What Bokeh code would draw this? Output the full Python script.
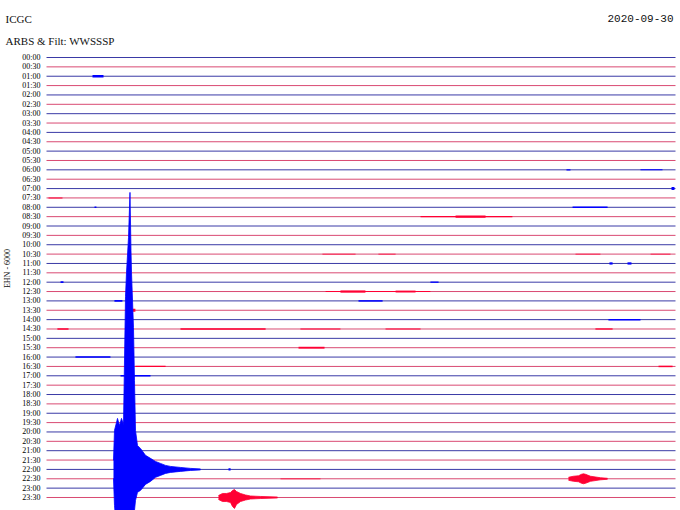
from bokeh.plotting import figure
from bokeh.models import Range1d
from bokeh.embed import file_html
from bokeh.resources import INLINE
from bokeh.core.properties import value

# ---------------- data ----------------
station = "ICGC"
subtitle = "ARBS & Filt: WWSSSP"
date_label = "2020-09-30"
channel_label = "EHN - 6000"

trace_labels = [
    "00:00", "00:30", "01:00", "01:30", "02:00", "02:30", "03:00", "03:30",
    "04:00", "04:30", "05:00", "05:30", "06:00", "06:30", "07:00", "07:30",
    "08:00", "08:30", "09:00", "09:30", "10:00", "10:30", "11:00", "11:30",
    "12:00", "12:30", "13:00", "13:30", "14:00", "14:30", "15:00", "15:30",
    "16:00", "16:30", "17:00", "17:30", "18:00", "18:30", "19:00", "19:30",
    "20:00", "20:30", "21:00", "21:30", "22:00", "22:30", "23:00", "23:30",
]
trace_minutes = 30  # each line spans 30 minutes

# main earthquake on the 22:00 line (minutes into line, envelope in line-spacing units)
quake_trace = 44
quake_t = [3.195, 3.243, 3.339, 3.386, 3.482, 3.577, 3.672, 3.768, 3.816, 3.911,
           3.982, 4.030, 4.054, 4.149, 4.197, 4.245, 4.340, 4.483, 4.722, 4.960,
           5.199, 5.437, 5.676, 5.914, 6.391, 6.868, 7.345]
quake_up = [0.96, 4.17, 5.02, 5.45, 4.70, 5.45, 4.81, 18.48, 21.04, 24.78,
            29.59, 23.39, 21.04, 15.17, 9.51, 4.17, 2.56, 2.24, 1.50, 1.18,
            0.85, 0.64, 0.43, 0.32, 0.21, 0.11, 0.05]
quake_dn = [-0.96, -3.85, -6.52, -6.52, -6.52, -6.52, -6.52, -6.52, -6.52, -7.58,
            -7.58, -7.58, -6.52, -5.45, -4.38, -3.31, -2.45, -2.24, -1.60, -1.28,
            -0.85, -0.64, -0.43, -0.32, -0.21, -0.11, -0.05]

# event on the 23:30 line
ev1_trace = 47
ev1_t = [8.203, 8.394, 8.585, 8.776, 8.871, 8.966, 9.062, 9.253, 9.491, 9.730, 10.207, 11.017]
ev1_up = [0.21, 0.43, 0.43, 0.53, 0.75, 0.85, 0.64, 0.43, 0.27, 0.16, 0.11, 0.05]
ev1_dn = [-0.21, -0.43, -0.43, -0.53, -0.96, -1.17, -0.75, -0.43, -0.27, -0.16, -0.11, -0.05]

# event on the 22:30 line
ev2_trace = 45
ev2_t = [24.897, 25.135, 25.374, 25.517, 25.612, 25.708, 25.946, 26.423, 26.757]
ev2_up = [0.16, 0.27, 0.32, 0.48, 0.53, 0.48, 0.27, 0.11, 0.05]
ev2_dn = [-0.16, -0.27, -0.32, -0.48, -0.53, -0.48, -0.27, -0.11, -0.05]

# small noise bursts: line index, start minute, end minute, half amplitude
burst_trace = [2, 12, 12, 14, 15, 16, 16, 17, 17, 21, 21, 21, 21, 22, 22, 24, 24,
               25, 25, 25, 26, 26, 27, 28, 29, 29, 29, 29, 29, 31, 32, 33, 33, 34, 45, 44]
burst_t0 = [2.194, 24.80, 28.33, 29.81, 0.095, 2.29, 25.09, 17.84, 19.51, 13.16, 15.83, 25.23,
            28.81, 26.85, 27.71, 0.67, 18.31, 13.31, 14.02, 16.65, 3.24, 14.88, 4.10, 26.80,
            0.52, 6.39, 12.11, 16.17, 26.18, 12.02, 1.38, 4.24, 29.19, 3.53, 11.16, 8.68]
burst_t1 = [2.719, 24.99, 29.38, 29.95, 0.763, 2.38, 26.76, 22.22, 20.94, 14.74, 16.65, 26.42,
            29.76, 27.00, 27.90, 0.81, 18.70, 18.31, 15.21, 17.60, 3.62, 16.03, 4.24, 28.33,
            1.05, 10.45, 14.02, 17.84, 27.00, 13.26, 3.05, 5.68, 29.86, 4.96, 13.07, 8.78]
burst_amp = [0.13, 0.06, 0.05, 0.16, 0.05, 0.08, 0.08, 0.06, 0.12, 0.05, 0.05, 0.05,
             0.05, 0.12, 0.12, 0.10, 0.07, 0.06, 0.12, 0.10, 0.09, 0.08, 0.16, 0.08,
             0.08, 0.07, 0.05, 0.05, 0.07, 0.10, 0.08, 0.07, 0.08, 0.08, 0.04, 0.12]

# ---------------- style ----------------
LINE_BLUE = "#3a3aa6"
LINE_RED = "#d94a72"
SIG_BLUE = "#0000ff"
SIG_RED = "#ff0033"
SERIF = value("Liberation Serif")

def is_red(i):
    return i % 2 == 1

p = figure(width=680, height=510, output_backend="svg", toolbar_location=None,
           x_range=Range1d(-2.194, 30.238), y_range=Range1d(-48.389, 6.089),
           min_border=0, background_fill_color="white", border_fill_color="white")
p.axis.visible = False
p.grid.visible = False
p.outline_line_color = None

n = len(trace_labels)
base_y = [-i for i in range(n)]
p.segment(x0=[0] * n, y0=base_y, x1=[trace_minutes] * n, y1=base_y,
          line_color=[LINE_RED if is_red(i) else LINE_BLUE for i in range(n)],
          line_width=1)

# noise bursts
p.quad(left=burst_t0, right=burst_t1,
       bottom=[-t - a for t, a in zip(burst_trace, burst_amp)],
       top=[-t + a for t, a in zip(burst_trace, burst_amp)],
       fill_color=[SIG_RED if is_red(t) else SIG_BLUE for t in burst_trace],
       line_color=None)

for tr, tt, up, dn in [(quake_trace, quake_t, quake_up, quake_dn),
                       (ev1_trace, ev1_t, ev1_up, ev1_dn),
                       (ev2_trace, ev2_t, ev2_up, ev2_dn)]:
    col = SIG_RED if is_red(tr) else SIG_BLUE
    p.varea(x=tt, y1=[-tr + u for u in up], y2=[-tr + d for d in dn],
            fill_color=col)
    p.line(x=tt, y=[-tr + u for u in up], line_color=col, line_width=0.8)
    p.line(x=tt, y=[-tr + d for d in dn], line_color=col, line_width=0.8)

# time labels
p.text(x=[-0.286] * n, y=base_y, text=trace_labels, text_font=SERIF,
       text_font_size="8px", text_align="right", text_baseline="middle",
       text_color="#000000")

# header texts
p.text(x=[-1.955], y=[4.166], text=[station], text_font=SERIF, text_font_size="11px",
       text_align="left", text_baseline="middle", text_color="#111111")
p.text(x=[-1.955], y=[1.816], text=[subtitle], text_font=SERIF, text_font_size="11px",
       text_align="left", text_baseline="middle", text_color="#111111")
p.text(x=[29.905], y=[4.166], text=[date_label], text_font=value("Liberation Mono"),
       text_font_size="11px", text_align="right", text_baseline="middle",
       text_color="#111111")
p.text(x=[-1.86], y=[-22.54], text=[channel_label], text_font=SERIF,
       text_font_size="8px", text_align="center", text_baseline="middle",
       angle=1.5708, text_color="#111111")

open("out.html", "w").write(file_html(p, INLINE))
